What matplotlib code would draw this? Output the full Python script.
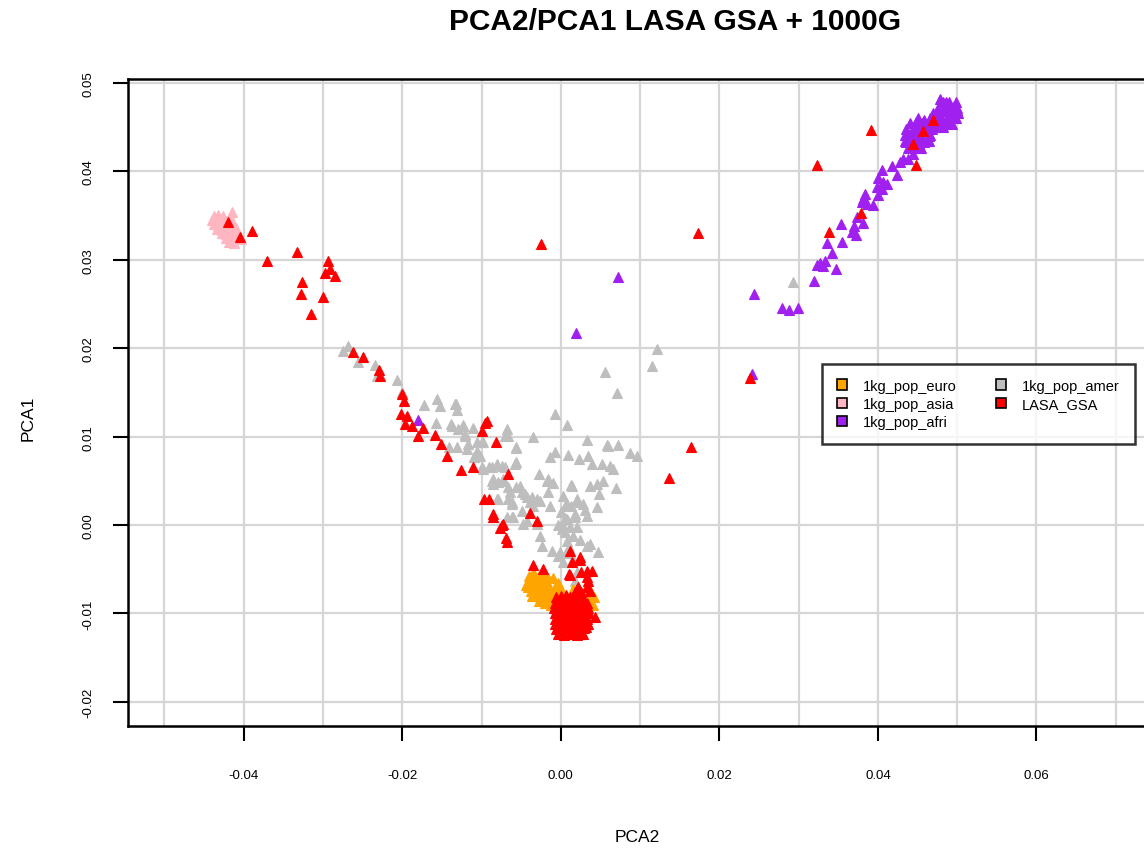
import numpy as np
import matplotlib
matplotlib.use("Agg")
import matplotlib.pyplot as plt
from matplotlib.patches import Patch

plt.rcParams['font.family'] = ['Liberation Sans', 'DejaVu Sans']

# (PCA2, PCA1) pairs
euro = [(-0.0040,-0.0058),(-0.0034,-0.0056),(-0.0028,-0.0058),(-0.0042,-0.0064),(-0.0036,-0.0062),
        (-0.0030,-0.0063),(-0.0024,-0.0062),(-0.0041,-0.0070),(-0.0035,-0.0068),(-0.0029,-0.0069),
        (-0.0023,-0.0068),(-0.0017,-0.0066),(-0.0038,-0.0075),(-0.0032,-0.0074),(-0.0026,-0.0075),
        (-0.0020,-0.0073),(-0.0014,-0.0072),(-0.0030,-0.0080),(-0.0024,-0.0080),(-0.0018,-0.0079),
        (-0.0012,-0.0078),(-0.0006,-0.0077),(-0.0022,-0.0085),(-0.0016,-0.0085),(-0.0010,-0.0084),
        (-0.0004,-0.0083),(-0.0012,-0.0090),(-0.0006,-0.0089),(0.0000,-0.0088),
        (-0.0010,-0.0060),(-0.0004,-0.0066),(0.0000,-0.0072),(0.0000,-0.0080),(-0.0008,-0.0070),
        (-0.0020,-0.0088),(-0.0028,-0.0086),(-0.0036,-0.0080),(-0.0016,-0.0060),(-0.0044,-0.0068),
        (-0.0035,-0.0054),(-0.0022,-0.0056),
        (0.0015,-0.0072),(0.0022,-0.0070),(0.0030,-0.0073),(0.0038,-0.0076),(0.0042,-0.0082),
        (0.0036,-0.0086),(0.0040,-0.0090),(0.0028,-0.0088),(0.0018,-0.0080)]

asia = [(-0.0438,0.0350),(-0.0432,0.0351),(-0.0426,0.0349),(-0.0415,0.0354),(-0.0440,0.0345),
        (-0.0434,0.0344),(-0.0428,0.0346),(-0.0422,0.0344),(-0.0416,0.0346),(-0.0438,0.0340),
        (-0.0432,0.0339),(-0.0426,0.0341),(-0.0420,0.0339),(-0.0414,0.0341),(-0.0434,0.0335),
        (-0.0428,0.0334),(-0.0422,0.0336),(-0.0416,0.0334),(-0.0410,0.0336),(-0.0428,0.0330),
        (-0.0422,0.0329),(-0.0416,0.0331),(-0.0410,0.0329),(-0.0422,0.0325),(-0.0416,0.0324),
        (-0.0410,0.0326),(-0.0404,0.0324),(-0.0418,0.0320),(-0.0412,0.0319)]

afri = [(0.0490,0.0478),(0.0496,0.0474),(0.0484,0.0474),(0.0500,0.0469),(0.0492,0.0469),
        (0.0484,0.0468),(0.0476,0.0466),(0.0496,0.0464),(0.0488,0.0463),(0.0480,0.0461),
        (0.0472,0.0460),(0.0490,0.0458),(0.0482,0.0456),(0.0474,0.0454),(0.0494,0.0470),
        (0.0486,0.0479),(0.0482,0.0478),(0.0498,0.0478),(0.0476,0.0472),(0.0500,0.0472),
        (0.0470,0.0466),(0.0501,0.0466),(0.0468,0.0460),(0.0499,0.0460),(0.0478,0.0454),
        (0.0486,0.0454),(0.0494,0.0454),(0.0474,0.0450),(0.0482,0.0450),(0.0478,0.0482),
        (0.0466,0.0460),(0.0458,0.0458),(0.0462,0.0452),(0.0454,0.0452),(0.0450,0.0460),
        (0.0446,0.0450),(0.0468,0.0448),(0.0460,0.0446),(0.0452,0.0445),(0.0444,0.0443),
        (0.0438,0.0441),(0.0464,0.0440),(0.0456,0.0439),(0.0448,0.0437),(0.0440,0.0435),
        (0.0452,0.0432),(0.0444,0.0430),(0.0436,0.0433),(0.0458,0.0433),(0.0448,0.0426),
        (0.0440,0.0455),(0.0448,0.0456),(0.0456,0.0455),(0.0464,0.0455),(0.0470,0.0455),
        (0.0436,0.0448),(0.0434,0.0441),(0.0442,0.0441),(0.0450,0.0441),(0.0466,0.0441),
        (0.0434,0.0434),(0.0450,0.0434),(0.0464,0.0434),(0.0438,0.0427),(0.0454,0.0427),
        (0.0444,0.0420),(0.0438,0.0414),(0.0432,0.0414),(0.0428,0.0411),(0.0418,0.0406),
        (0.0424,0.0396),(0.0405,0.0402),(0.0400,0.0393),(0.0406,0.0388),(0.0411,0.0386),
        (0.0399,0.0382),(0.0405,0.0380),(0.0400,0.0373),(0.0384,0.0374),(0.0381,0.0369),
        (0.0380,0.0365),(0.0386,0.0363),(0.0394,0.0362),(0.0374,0.0348),(0.0381,0.0342),
        (0.0370,0.0338),(0.0353,0.0341),(0.0367,0.0331),(0.0372,0.0328),(0.0355,0.0320),
        (0.0336,0.0319),(0.0342,0.0308),(0.0333,0.0299),(0.0327,0.0296),(0.0323,0.0294),
        (0.0331,0.0293),(0.0347,0.0290),(0.0319,0.0276),(0.0244,0.0261),(0.0279,0.0245),
        (0.0288,0.0243),(0.0299,0.0245),(0.0072,0.0281),(0.0019,0.0217),(0.0241,0.0171),
        (-0.0180,0.0119)]

amer = [(-0.0269,0.0202),(-0.0275,0.0197),(-0.0256,0.0184),(-0.0235,0.0181),(-0.0232,0.0169),
        (-0.0207,0.0164),(-0.0201,0.0150),(-0.0172,0.0136),(-0.0156,0.0143),(-0.0153,0.0135),
        (-0.0132,0.0137),(-0.0131,0.0130),(-0.0158,0.0115),(-0.0138,0.0114),(-0.0130,0.0109),
        (-0.0124,0.0113),(-0.0111,0.0110),(-0.0121,0.0101),(-0.0131,0.0088),(-0.0119,0.0086),
        (-0.0117,0.0092),(-0.0106,0.0094),(-0.0100,0.0094),(-0.0110,0.0077),(-0.0102,0.0078),
        (-0.0100,0.0066),(-0.0090,0.0066),(-0.0081,0.0069),(-0.0068,0.0109),(-0.0067,0.0101),
        (-0.0057,0.0087),(-0.0058,0.0069),(-0.0035,0.0100),(-0.0028,0.0058),(-0.0018,0.0050),
        (-0.0010,0.0048),(-0.0008,0.0083),(-0.0014,0.0077),(0.0009,0.0079),(-0.0008,0.0126),
        (0.0008,0.0113),(0.0014,0.0044),(-0.0087,0.0050),(-0.0086,0.0046),(-0.0073,0.0050),
        (-0.0081,0.0029),(-0.0061,0.0026),(-0.0049,0.0037),(-0.0043,0.0032),(-0.0039,0.0026),
        (-0.0030,0.0029),(-0.0016,0.0037),(0.0003,0.0033),(0.0008,0.0024),(0.0020,0.0026),
        (0.0071,0.0149),(0.0033,0.0096),(0.0058,0.0090),(0.0072,0.0090),(0.0087,0.0081),
        (0.0096,0.0078),(0.0023,0.0075),(0.0034,0.0078),(0.0039,0.0069),(0.0052,0.0069),
        (0.0062,0.0067),(0.0066,0.0063),(-0.0016,0.0052),(0.0013,0.0045),(0.0037,0.0044),
        (0.0045,0.0046),(0.0053,0.0050),(0.0048,0.0035),(0.0069,0.0042),(0.0021,0.0029),
        (0.0005,0.0021),(0.0013,0.0021),(0.0028,0.0024),(0.0030,0.0017),(0.0045,0.0020),
        (-0.0014,0.0021),(-0.0026,0.0027),(0.0033,0.0010),(0.0008,0.0007),(0.0018,0.0009),
        (0.0003,-0.0001),(0.0011,-0.0002),(0.0021,-0.0002),(0.0005,-0.0008),(0.0015,-0.0012),
        (0.0024,-0.0017),(0.0008,-0.0018),(0.0037,-0.0021),(0.0047,-0.0031),(-0.0026,-0.0012),
        (-0.0024,-0.0024),(-0.0011,-0.0029),(-0.0001,-0.0031),(-0.0048,0.0001),(-0.0061,0.0009),
        (-0.0068,0.0009),(-0.0035,0.0021),(-0.0049,0.0016),(-0.0064,0.0037),(-0.0052,0.0044),
        (-0.0045,0.0035),(-0.0037,0.0032),(-0.0071,0.0066),(-0.0004,-0.0035),(0.0003,-0.0042),
        (0.0020,-0.0053),(0.0018,-0.0063),(0.0033,-0.0024),(-0.0134,0.0137),(-0.0137,0.0112),
        (-0.0123,0.0112),(-0.0121,0.0103),(-0.0141,0.0088),(-0.0106,0.0084),(-0.0098,0.0094),
        (-0.0109,0.0077),(-0.0098,0.0063),(-0.0087,0.0066),(-0.0074,0.0067),(-0.0086,0.0052),
        (-0.0079,0.0049),(-0.0073,0.0052),(-0.0067,0.0043),(-0.0056,0.0043),(-0.0079,0.0029),
        (-0.0067,0.0029),(-0.0061,0.0024),(-0.0060,0.0009),(-0.0043,0.0005),(-0.0030,0.0001),
        (-0.0056,0.0071),(-0.0056,0.0088),(-0.0071,0.0101),(0.0000,0.0015),(0.0005,0.0008),
        (0.0002,-0.0005),(0.0010,-0.0025),(0.0006,-0.0032),(0.0015,-0.0038),(-0.0004,0.0000),
        (0.0018,0.0012),(0.0121,0.0199),(0.0115,0.0180),(0.0056,0.0173),(0.0059,0.0089),
        (0.0293,0.0275)]

lasa = [(-0.0420,0.0343),(-0.0405,0.0326),(-0.0389,0.0332),(-0.0333,0.0309),(-0.0371,0.0299),
        (-0.0294,0.0299),(-0.0291,0.0290),(-0.0297,0.0285),(-0.0285,0.0282),(-0.0326,0.0275),
        (-0.0328,0.0261),(-0.0300,0.0258),(-0.0315,0.0239),(-0.0262,0.0196),(-0.0250,0.0190),
        (-0.0230,0.0175),(-0.0228,0.0169),(-0.0201,0.0148),(-0.0198,0.0140),(-0.0202,0.0126),
        (-0.0194,0.0123),(-0.0196,0.0114),(-0.0188,0.0112),(-0.0174,0.0110),(-0.0180,0.0101),
        (-0.0159,0.0102),(-0.0151,0.0092),(-0.0144,0.0078),(-0.0126,0.0062),(-0.0111,0.0066),
        (-0.0093,0.0118),(-0.0096,0.0115),(-0.0100,0.0106),(-0.0082,0.0094),(-0.0067,0.0058),
        (-0.0097,0.0029),(-0.0091,0.0029),(-0.0039,0.0014),(-0.0030,0.0005),(-0.0073,0.0001),
        (-0.0069,-0.0015),(-0.0068,-0.0019),(0.0011,-0.0029),(0.0024,-0.0036),(-0.0086,0.0012),
        (-0.0086,0.0009),(-0.0074,0.0000),(-0.0077,-0.0003),(0.0014,-0.0042),(0.0024,-0.0040),
        (-0.0035,-0.0045),(-0.0023,-0.0050),(0.0010,-0.0055),(0.0026,-0.0053),(0.0033,-0.0052),
        (0.0039,-0.0052),(0.0034,-0.0063),(0.0033,-0.0070),(0.0021,-0.0072),(0.0037,-0.0075),
        (0.0043,-0.0104),(0.0011,-0.0057),(0.0033,-0.0059),
        (0.0391,0.0447),(0.0323,0.0407),(0.0469,0.0458),(0.0457,0.0446),(0.0444,0.0431),
        (0.0448,0.0407),(0.0379,0.0353),(0.0338,0.0331),(-0.0025,0.0318),(0.0173,0.0330),
        (0.0238,0.0166),(0.0164,0.0088),(0.0136,0.0053),
        # dense block under the euro cloud
        (0.0022,-0.0070),(0.0018,-0.0076),(0.0026,-0.0076),(-0.0006,-0.0082),(0.0000,-0.0080),
        (0.0012,-0.0082),(0.0020,-0.0082),(0.0028,-0.0083),(0.0006,-0.0079),(0.0016,-0.0079),
        (-0.0008,-0.0088),(-0.0001,-0.0087),(0.0006,-0.0089),(0.0013,-0.0088),(0.0020,-0.0087),(0.0027,-0.0089),(0.0033,-0.0088),
        (-0.0005,-0.0091),(0.0003,-0.0091),(0.0010,-0.0091),(0.0017,-0.0091),(0.0024,-0.0091),(0.0031,-0.0091),
        (-0.0009,-0.0094),(-0.0002,-0.0095),(0.0006,-0.0093),(0.0013,-0.0094),(0.0020,-0.0095),(0.0027,-0.0093),(0.0034,-0.0094),
        (-0.0005,-0.0097),(0.0002,-0.0097),(0.0009,-0.0097),(0.0016,-0.0097),(0.0024,-0.0097),(0.0031,-0.0097),
        (-0.0008,-0.0100),(-0.0001,-0.0099),(0.0005,-0.0101),(0.0013,-0.0100),(0.0020,-0.0099),(0.0028,-0.0101),(0.0035,-0.0100),
        (-0.0005,-0.0103),(0.0002,-0.0103),(0.0009,-0.0103),(0.0017,-0.0103),(0.0024,-0.0103),(0.0031,-0.0103),
        (-0.0008,-0.0106),(-0.0001,-0.0107),(0.0007,-0.0105),(0.0013,-0.0106),(0.0021,-0.0107),(0.0027,-0.0105),(0.0033,-0.0106),
        (-0.0004,-0.0109),(0.0003,-0.0109),(0.0010,-0.0109),(0.0017,-0.0109),(0.0024,-0.0109),(0.0031,-0.0109),
        (-0.0007,-0.0112),(0.0000,-0.0111),(0.0007,-0.0113),(0.0014,-0.0112),(0.0021,-0.0111),(0.0028,-0.0113),(0.0034,-0.0112),
        (-0.0003,-0.0115),(0.0004,-0.0115),(0.0011,-0.0115),(0.0018,-0.0115),(0.0025,-0.0115),(0.0032,-0.0115),
        (-0.0006,-0.0118),(0.0001,-0.0119),(0.0008,-0.0117),(0.0015,-0.0118),(0.0022,-0.0119),(0.0029,-0.0117),
        (-0.0004,-0.0123),(0.0004,-0.0124),(0.0012,-0.0123),(0.0020,-0.0124),(0.0028,-0.0123)]

groups = ["1kg_pop_euro", "1kg_pop_asia", "1kg_pop_afri", "1kg_pop_amer", "LASA_GSA"]
colors = ["#FFA500", "#FFB6C1", "#A020F0", "#BEBEBE", "#FF0000"]

fig = plt.figure(figsize=(11.44, 8.53), dpi=100)
ax = fig.add_axes([128/1144, 126/853, 1094/1144, 647/853])

# draw order: amer first, then euro, asia, afri, LASA on top
for data, col in [(amer, colors[3]), (euro, colors[0]), (asia, colors[1]), (afri, colors[2]), (lasa, colors[4])]:
    a = np.array(data)
    ax.plot(a[:, 0], a[:, 1], linestyle='none', marker='^', markersize=6.8,
            color=col, markeredgecolor=col, markeredgewidth=0.8, zorder=3)

ax.set_xlim(-0.0546, 0.0834)
ax.set_ylim(-0.02274, 0.05045)

ax.set_xticks(np.arange(-0.05, 0.081, 0.01), minor=True)
ax.set_xticks([-0.04, -0.02, 0.0, 0.02, 0.04, 0.06])
ax.set_xticklabels(["-0.04", "-0.02", "0.00", "0.02", "0.04", "0.06"])
ax.set_yticks([-0.02, -0.01, 0.0, 0.01, 0.02, 0.03, 0.04, 0.05])
ax.set_yticklabels(["-0.02", "-0.01", "0.00", "0.01", "0.02", "0.03", "0.04", "0.05"], rotation=90, va='center')
ax.grid(True, which='both', color='#D6D6D6', linewidth=1.6, zorder=0)
ax.set_axisbelow(True)
ax.tick_params(which='minor', length=0)
ax.tick_params(which='major', length=11, width=1.5, labelsize=9.5, direction='out')
ax.tick_params(axis='x', pad=20)
ax.tick_params(axis='y', pad=13)
for s in ax.spines.values():
    s.set_linewidth(1.8)

fig.text(675/1144, 1 - 22/853, "PCA2/PCA1 LASA GSA + 1000G", fontsize=21.5, fontweight='bold',
         ha='center', va='center')
fig.text(637/1144, 1 - 838/853, "PCA2", fontsize=12.5, ha='center', va='center')
fig.text(28/1144, 1 - 418/853, "PCA1", fontsize=12.5, ha='center', va='center', rotation=90)

handles = [Patch(facecolor=c, edgecolor='black', linewidth=1.2) for c in colors]
leg = ax.legend(handles, groups, ncol=2, loc='upper left', bbox_to_anchor=(822/1144, 1 - 365/853),
                bbox_transform=fig.transFigure, borderaxespad=0, fontsize=10.5, frameon=True,
                fancybox=False, handlelength=0.7, handleheight=0.7, handletextpad=1.1,
                columnspacing=2.7, labelspacing=0.3, borderpad=1.0)
leg.get_frame().set_edgecolor('black')
leg.get_frame().set_linewidth(1.8)
leg.set_zorder(5)

fig.savefig("out.png", dpi=100)
